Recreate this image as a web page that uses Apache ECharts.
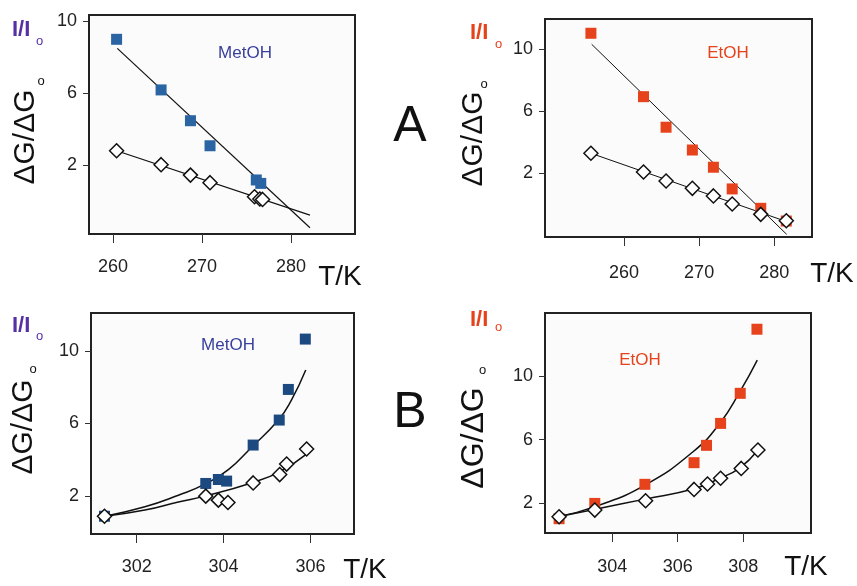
<!DOCTYPE html>
<html>
<head>
<meta charset="utf-8">
<script src="https://cdn.jsdelivr.net/npm/echarts@6/dist/echarts.min.js"></script>
<style>
  html, body { margin: 0; padding: 0; background: #fff; }
  #main { width: 857px; height: 586px; }
</style>
</head>
<body>
<div id="main"></div>
<script>
// panel A, MetOH (left) - temperature and values
var aMetT = [260.4, 265.4, 268.7, 270.9, 276.1, 276.6];
var aMetSq = [8.98, 6.17, 4.46, 3.07, 1.17, 0.98];
var aMetDiaT = [260.4, 265.4, 268.7, 270.9, 275.9, 276.5, 276.8];
var aMetDia = [2.79, 2.02, 1.44, 1.02, 0.24, 0.11, 0.09];
var aMetFitSqT = [260.48, 282.13];
var aMetFitSq = [8.48, -1.48];
var aMetFitDiaT = [260.4, 282.13];
var aMetFitDia = [2.79, -0.78];

// panel A, EtOH (right)
var aEtT = [255.6, 262.6, 265.6, 269.1, 271.9, 274.4, 278.2, 281.6];
var aEtSq = [11.03, 6.94, 4.97, 3.5, 2.39, 0.99, -0.26, -1.08];
var aEtDia = [3.29, 2.08, 1.5, 1.03, 0.54, 0.02, -0.65, -1.06];
var aEtFitSqT = [255.7, 281.65];
var aEtFitSq = [10.32, -1.94];
var aEtFitDiaT = [255.6, 281.65];
var aEtFitDia = [3.29, -1.12];

// panel B, MetOH (left)
var bMetT = [301.26, 303.59, 303.88, 304.07, 304.68, 305.28, 305.49, 305.88];
var bMetSq = [0.88, 2.69, 2.91, 2.82, 4.81, 6.19, 7.88, 10.66];
var bMetDiaT = [301.26, 303.59, 303.88, 304.1, 304.68, 305.29, 305.45, 305.91];
var bMetDia = [0.88, 1.99, 1.77, 1.64, 2.72, 3.18, 3.76, 4.59];
var bMetFitSqT = [301.27, 302.19, 302.96, 303.57, 304.11, 304.64, 305.26, 305.56, 305.89];
var bMetFitSq = [0.88, 1.40, 2.04, 2.65, 3.45, 4.68, 6.19, 7.29, 8.95];
var bMetFitDiaT = [301.27, 302.19, 302.96, 303.57, 304.64, 305.29, 305.89];
var bMetFitDia = [0.88, 1.22, 1.67, 1.99, 2.72, 3.33, 4.28];

// panel B, EtOH (right)
var bEtT = [302.38, 303.47, 305.0, 306.5, 306.88, 307.31, 307.91, 308.42];
var bEtSq = [1.03, 1.99, 3.19, 4.55, 5.64, 7.02, 8.91, 12.94];
var bEtDiaT = [302.38, 303.47, 305.02, 306.5, 306.91, 307.31, 307.94, 308.45];
var bEtDia = [1.15, 1.57, 2.16, 2.87, 3.21, 3.57, 4.19, 5.35];
var bEtFitT = [302.35, 303.52, 305.0, 306.47, 307.29, 307.9, 308.43];
var bEtFitSq = [1.15, 1.82, 3.14, 5.24, 7.03, 9.01, 11.0];
var bEtFitDia = [1.15, 1.64, 2.26, 2.89, 3.57, 4.23, 5.28];

var yTicks = [2, 6, 10];
var xTicksA = [260, 270, 280];
var xTicksB1 = [302, 304, 306];
var xTicksB2 = [304, 306, 308];

function pairs(xs, ys) {
    return xs.map(function (x, i) { return [x, ys[i]]; });
}

var FONT = 'Liberation Sans, Arial, sans-serif';
var BLUE = '#2a64a3';
var NAVY = '#1c4a80';
var RED = '#e6421c';
var PURPLE = '#5631a6';

function xAxisOf(idx, min, max, ticks, margin) {
    return {
        type: 'value', gridIndex: idx, min: min, max: max,
        axisLine: {show: false, onZero: false},
        splitLine: {show: false},
        axisTick: {show: true, length: 9, customValues: ticks, lineStyle: {color: '#333', width: 1}},
        axisLabel: {customValues: ticks, margin: margin, fontSize: 18, color: '#222', fontFamily: FONT}
    };
}
function yAxisOf(idx, min, max) {
    return {
        type: 'value', gridIndex: idx, min: min, max: max,
        axisLine: {show: false, onZero: false},
        splitLine: {show: false},
        axisTick: {show: true, length: 6, customValues: yTicks, lineStyle: {color: '#333', width: 1}},
        axisLabel: {customValues: yTicks, margin: 12, fontSize: 18, color: '#222', fontFamily: FONT}
    };
}
function gridOf(left, top, width, height) {
    return {left: left, top: top, width: width, height: height, show: true,
        borderColor: '#222', borderWidth: 2, backgroundColor: '#fbfbfb'};
}
function squares(idx, xs, ys, color) {
    return {type: 'scatter', xAxisIndex: idx, yAxisIndex: idx, symbol: 'rect', symbolSize: 11,
        itemStyle: {color: color, opacity: 1}, data: pairs(xs, ys), z: 3, silent: true};
}
function diamonds(idx, xs, ys) {
    return {type: 'scatter', xAxisIndex: idx, yAxisIndex: idx, symbol: 'diamond', symbolSize: 14,
        itemStyle: {color: '#fff', borderColor: '#111', borderWidth: 1.5, opacity: 1},
        data: pairs(xs, ys), z: 4, silent: true};
}
function fit(idx, xs, ys, smooth, width) {
    return {type: 'line', xAxisIndex: idx, yAxisIndex: idx, showSymbol: false, smooth: smooth,
        lineStyle: {color: '#111', width: width}, data: pairs(xs, ys), z: 2, silent: true};
}

function txt(x, y, text, size, color, opts) {
    var style = {text: text, fontSize: size, fontFamily: FONT, fill: color,
        textAlign: 'center', textVerticalAlign: 'middle'};
    for (var k in (opts || {})) style[k] = opts[k];
    return {type: 'text', x: x, y: y, style: style};
}
// I/Io label: bold "I/I" plus a small ring
function ratioLabel(x, y, rx, ry, color) {
    return [
        txt(x, y, 'I/I', 22, color, {fontWeight: 'bold', textAlign: 'left'}),
        txt(rx, ry, 'o', 13, color)
    ];
}
// rotated y label with its ring
function dgLabel(x, y, size, rx, ry) {
    var t = txt(x, y, 'ΔG/ΔG', size, '#111');
    t.rotation = Math.PI / 2;
    return [t, txt(rx, ry, 'o', 13, '#111')];
}

var graphics = [].concat(
    ratioLabel(12, 30, 39.5, 41, PURPLE),
    ratioLabel(470, 33, 498.5, 44.5, RED),
    ratioLabel(12, 325.5, 39.5, 336, PURPLE),
    ratioLabel(470, 319.5, 498.5, 327, RED),
    dgLabel(26, 137, 30, 41, 81.5),
    dgLabel(474, 139, 30, 484, 84),
    dgLabel(24, 427, 30, 33, 369),
    dgLabel(474, 438, 32, 482.5, 370.5),
    [
        txt(245, 53, 'MetOH', 17, '#383f9c'),
        txt(728, 53, 'EtOH', 17, RED),
        txt(228, 345, 'MetOH', 17, '#383f9c'),
        txt(640, 360, 'EtOH', 17, RED),
        txt(340, 277, 'T/K', 28, '#111'),
        txt(832, 274, 'T/K', 28, '#111'),
        txt(365, 570, 'T/K', 28, '#111'),
        txt(806, 567, 'T/K', 28, '#111'),
        txt(410, 127, 'A', 50, '#111'),
        txt(410, 413, 'B', 50, '#111')
    ]
);

var option = {
    animation: false,
    backgroundColor: '#fff',
    grid: [
        gridOf(89, 15, 266, 219),
        gridOf(545, 19, 267, 218),
        gridOf(91, 313, 263, 221),
        gridOf(545, 313, 266, 220)
    ],
    xAxis: [
        xAxisOf(0, 257.3, 287.19, xTicksA, 24),
        xAxisOf(1, 249.49, 285.02, xTicksA, 27),
        xAxisOf(2, 300.95, 307.0, xTicksB1, 24),
        xAxisOf(3, 301.95, 310.07, xTicksB2, 25)
    ],
    yAxis: [
        yAxisOf(0, -1.83, 10.33),
        yAxisOf(1, -2.11, 11.95),
        yAxisOf(2, -0.10, 12.10),
        yAxisOf(3, 0.13, 13.96)
    ],
    series: [
        fit(0, aMetFitSqT, aMetFitSq, false, 1.2),
        fit(0, aMetFitDiaT, aMetFitDia, false, 1.2),
        squares(0, aMetT, aMetSq, BLUE),
        diamonds(0, aMetDiaT, aMetDia),

        fit(1, aEtFitSqT, aEtFitSq, false, 1),
        fit(1, aEtFitDiaT, aEtFitDia, false, 1),
        squares(1, aEtT, aEtSq, RED),
        diamonds(1, aEtT, aEtDia),

        fit(2, bMetFitSqT, bMetFitSq, true, 1.5),
        fit(2, bMetFitDiaT, bMetFitDia, true, 1.5),
        squares(2, bMetT, bMetSq, NAVY),
        diamonds(2, bMetDiaT, bMetDia),

        fit(3, bEtFitT, bEtFitSq, true, 1.5),
        fit(3, bEtFitT, bEtFitDia, true, 1.5),
        squares(3, bEtT, bEtSq, RED),
        diamonds(3, bEtDiaT, bEtDia)
    ],
    graphic: graphics
};

var chart = echarts.init(document.getElementById('main'), null, {renderer: 'canvas'});
chart.setOption(option);
</script>
</body>
</html>
